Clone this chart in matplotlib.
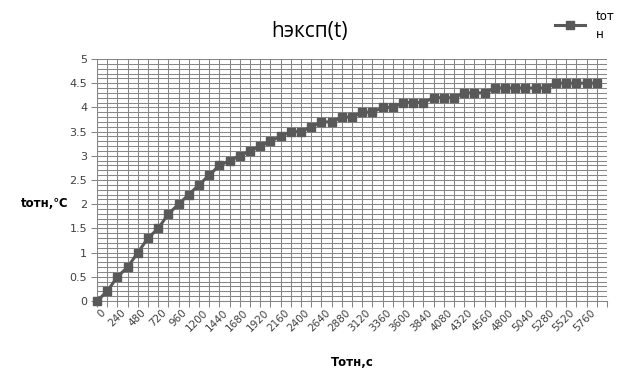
import matplotlib
matplotlib.use("Agg")
import matplotlib.pyplot as plt
import numpy as np

# Data
times = [i * 120 for i in range(50)]  # 0 .. 5880 s
values = [0, 0.2, 0.5, 0.7, 1.0, 1.3, 1.5, 1.8, 2.0, 2.2,
          2.4, 2.6, 2.8, 2.9, 3.0, 3.1, 3.2, 3.3, 3.4, 3.5,
          3.5, 3.6, 3.7, 3.7, 3.8, 3.8, 3.9, 3.9, 4.0, 4.0,
          4.1, 4.1, 4.1, 4.2, 4.2, 4.2, 4.3, 4.3, 4.3, 4.4,
          4.4, 4.4, 4.4, 4.4, 4.4, 4.5, 4.5, 4.5, 4.5, 4.5]
x_tick_labels = [str(v) for v in range(0, 5761, 240)]
y_ticks = [0, 0.5, 1, 1.5, 2, 2.5, 3, 3.5, 4, 4.5, 5]
y_tick_labels = ["0", "0.5", "1", "1.5", "2", "2.5", "3", "3.5", "4", "4.5", "5"]
title = "hэксп(t)"
xlabel = "Tотн,с"
ylabel = "tотн,℃"
legend_label = "tот\nн"

fig = plt.figure(figsize=(6.19, 3.91), dpi=100)
ax = fig.add_axes([97/619, 1 - 301/391, (607-97)/619, (301-59)/391])

grid_c = "#868686"
line_c = "#595959"
lw_grid = 0.75

ax.set_xlim(0, 6000)
ax.set_ylim(0, 5)

ax.set_xticks(np.arange(0, 6001, 120))
ax.set_xticklabels([""] * len(np.arange(0, 6001, 120)))
ax.set_yticks(y_ticks)
ax.set_yticklabels(y_tick_labels, fontsize=8, color="#404040", family="DejaVu Sans")
ax.set_yticks(np.arange(0, 5.01, 0.1), minor=True)
ax.grid(True, which="major", axis="both", color=grid_c, linewidth=lw_grid)
ax.grid(True, which="minor", axis="y", color=grid_c, linewidth=lw_grid)
ax.tick_params(axis="x", which="major", length=4, width=lw_grid, color=grid_c, direction="out")
ax.tick_params(axis="y", which="major", length=4, width=lw_grid, color=grid_c, direction="out", pad=3)
ax.tick_params(axis="y", which="minor", length=0)
for s in ["top", "right"]:
    ax.spines[s].set_visible(False)
for s in ["left", "bottom"]:
    ax.spines[s].set_color(grid_c)
    ax.spines[s].set_linewidth(lw_grid)
ax.set_axisbelow(True)

# x tick labels every 240
for lbl in x_tick_labels:
    v = int(lbl)
    ax.text(v + 40, -0.13, lbl, transform=ax.transData,
            rotation=45, ha="right", va="top", rotation_mode="anchor",
            fontsize=7.5, color="#404040", family="DejaVu Sans")

ax.plot(times, values, color=line_c, linewidth=2.2, marker="s", markersize=5.5,
        markerfacecolor=line_c, markeredgecolor=line_c, clip_on=False, zorder=5)

fig.text(310/619, 1 - 31/391, title, ha="center", va="center", fontsize=15,
         family="Open Sans", color="#000000")
fig.text(352/619, 1 - 362/391, xlabel, ha="center", va="center", fontsize=8.5,
         fontweight="bold", family="DejaVu Sans", color="#000000")
fig.text(45/619, 1 - 203/391, ylabel, ha="center", va="center", fontsize=8.5,
         fontweight="bold", family="DejaVu Sans", color="#000000")

# legend
lx0, lx1, ly = 555/619, 585/619, 1 - 25/391
fig.add_artist(matplotlib.lines.Line2D([lx0, lx1], [ly, ly], color=line_c, linewidth=2.2,
                                       transform=fig.transFigure))
fig.add_artist(matplotlib.lines.Line2D([(lx0+lx1)/2], [ly], color=line_c, marker="s",
                                       markersize=6, transform=fig.transFigure))
fig.text(596/619, 1 - 26/391, legend_label, ha="left", va="center", fontsize=8.5,
         family="DejaVu Sans", color="#000000", linespacing=1.5)

fig.savefig("out.png", dpi=100)
